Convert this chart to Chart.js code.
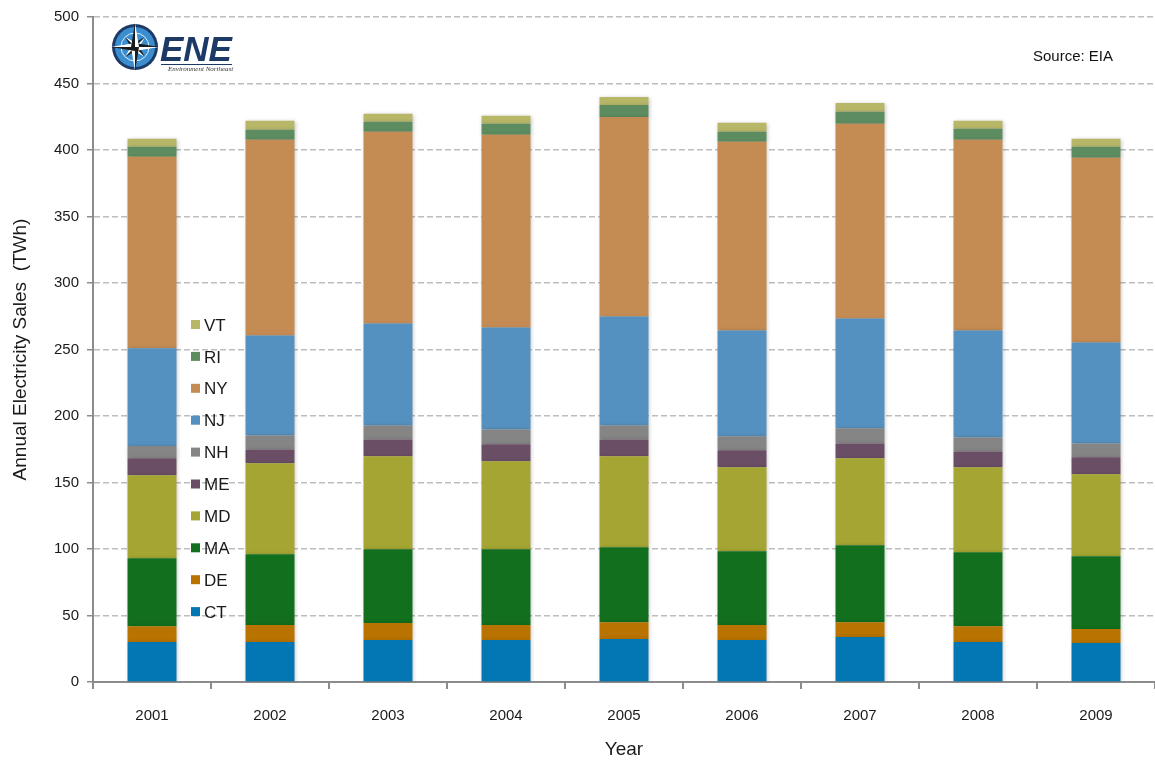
<!DOCTYPE html>
<html>
<head>
<meta charset="utf-8">
<script src="https://cdn.jsdelivr.net/npm/chart.js@4/dist/chart.umd.min.js"></script>
<style>
  html, body { margin: 0; padding: 0; background: #fff; }
  #wrap { width: 1155px; height: 761px; position: relative; }
</style>
</head>
<body>
<div id="wrap"><canvas id="salesChart" width="1155" height="761"></canvas></div>
<script>
// Annual electricity sales by state (TWh)
const years = ['2001', '2002', '2003', '2004', '2005', '2006', '2007', '2008', '2009'];
const ct = [30.0, 30.0, 31.5, 31.5, 32.3, 31.5, 33.8, 30.0, 29.3];
const de = [12.0, 12.8, 12.8, 11.3, 12.7, 11.3, 11.2, 12.0, 10.5];
const ma = [51.1, 53.3, 55.5, 57.0, 56.4, 55.5, 57.9, 55.6, 54.8];
const md = [62.3, 68.3, 69.9, 66.1, 68.3, 63.1, 65.3, 63.8, 61.6];
const me = [12.8, 10.5, 12.7, 12.8, 12.7, 12.8, 11.2, 12.0, 12.7];
const nh = [9.2, 10.5, 10.5, 11.2, 10.5, 10.5, 11.3, 10.5, 10.5];
const nj = [73.6, 75.1, 76.6, 76.6, 81.9, 79.6, 82.6, 80.4, 75.9];
const ny = [143.9, 147.2, 144.2, 144.9, 150.1, 141.9, 146.4, 143.4, 138.8];
const ri = [7.5, 7.5, 7.5, 8.3, 9.0, 7.5, 9.0, 8.2, 8.3];
const vt = [6.0, 6.7, 6.0, 6.0, 6.0, 6.7, 6.7, 6.0, 6.0];
const yTicks = [0, 50, 100, 150, 200, 250, 300, 350, 400, 450, 500];

const FONT = "'Liberation Sans', Arial, sans-serif";

function series(label, data, color) {
    return {
        label: label,
        data: data,
        backgroundColor: color,
        borderWidth: 0,
        barPercentage: 0.415,
        categoryPercentage: 1.0
    };
}

const datasets = [
    series('CT', ct, '#0376b4'),
    series('DE', de, '#b87300'),
    series('MA', ma, '#126f1e'),
    series('MD', md, '#a4a532'),
    series('ME', me, '#6a4e66'),
    series('NH', nh, '#858585'),
    series('NJ', nj, '#5591c0'),
    series('NY', ny, '#c48c53'),
    series('RI', ri, '#5c8c60'),
    series('VT', vt, '#b8b768')
];

// soft shadow behind bars
const barShadow = {
    id: 'barShadow',
    beforeDatasetsDraw(chart) {
        const c = chart.ctx;
        c.save();
        c.shadowColor = 'rgba(0,0,0,0.25)';
        c.shadowBlur = 4;
        c.shadowOffsetX = 1;
        c.shadowOffsetY = 1;
    },
    afterDatasetsDraw(chart) {
        chart.ctx.restore();
    }
};

// legend inside plot, reversed order, plus source note and logo
const decorations = {
    id: 'decorations',
    afterDraw(chart) {
        const c = chart.ctx;
        c.save();

        // legend
        const items = chart.data.datasets.slice().reverse();
        c.font = '17px ' + FONT;
        c.textBaseline = 'middle';
        c.textAlign = 'left';
        items.forEach(function (ds, i) {
            const y = 325 + i * 31.9;
            c.fillStyle = ds.backgroundColor;
            c.fillRect(191, y - 5, 9, 9);
            c.fillStyle = '#1a1a1a';
            c.fillText(ds.label, 204, y + 1);
        });

        // source
        c.font = '15px ' + FONT;
        c.fillStyle = '#111';
        c.textAlign = 'right';
        c.fillText('Source: EIA', 1113, 57);

        // logo: compass
        const cx = 135, cy = 47;
        c.beginPath();
        c.arc(cx, cy, 23, 0, Math.PI * 2);
        c.fillStyle = '#1d3a66';
        c.fill();
        c.beginPath();
        c.arc(cx, cy, 20, 0, Math.PI * 2);
        c.fillStyle = '#3a8ed0';
        c.fill();
        c.beginPath();
        c.arc(cx, cy, 14, 0, Math.PI * 2);
        c.strokeStyle = '#dfeefa';
        c.lineWidth = 1;
        c.stroke();
        // star points
        function point(ang, len, col) {
            const a = ang * Math.PI / 180;
            const w = 4;
            c.beginPath();
            c.moveTo(cx + Math.cos(a) * len, cy + Math.sin(a) * len);
            c.lineTo(cx + Math.cos(a + Math.PI / 2) * w, cy + Math.sin(a + Math.PI / 2) * w);
            c.lineTo(cx, cy);
            c.closePath();
            c.fillStyle = col;
            c.fill();
            c.beginPath();
            c.moveTo(cx + Math.cos(a) * len, cy + Math.sin(a) * len);
            c.lineTo(cx + Math.cos(a - Math.PI / 2) * w, cy + Math.sin(a - Math.PI / 2) * w);
            c.lineTo(cx, cy);
            c.closePath();
            c.fillStyle = '#1b1b1b';
            c.fill();
        }
        [45, 135, 225, 315].forEach(function (a) { point(a, 14, '#ffffff'); });
        [0, 90, 180, 270].forEach(function (a) { point(a, 24, '#ffffff'); });

        // logo: text
        c.textAlign = 'left';
        c.textBaseline = 'alphabetic';
        c.font = 'italic bold 35px ' + FONT;
        c.fillStyle = '#1d3a66';
        c.fillText('ENE', 160, 61);
        c.fillRect(161, 64, 71, 1);
        c.font = 'italic 7px "Liberation Serif", serif';
        c.fillStyle = '#333';
        c.fillText('Environment Northeast', 168, 71);

        c.restore();
    }
};

new Chart(document.getElementById('salesChart'), {
    type: 'bar',
    data: { labels: years, datasets: datasets },
    plugins: [barShadow, decorations],
    options: {
        responsive: false,
        animation: false,
        layout: { padding: { top: 17, right: 0, left: 0, bottom: 0 } },
        plugins: {
            legend: { display: false },
            tooltip: { enabled: false }
        },
        scales: {
            x: {
                stacked: true,
                offset: true,
                afterFit(scale) { scale.height = 79; },
                border: { color: '#8c8c8c', width: 2 },
                grid: {
                    offset: true,
                    drawOnChartArea: false,
                    drawTicks: true,
                    tickLength: 7,
                    color: '#8c8c8c',
                    lineWidth: 2
                },
                ticks: {
                    color: '#1a1a1a',
                    font: { family: FONT, size: 15 },
                    padding: 18,
                    maxRotation: 0
                },
                title: {
                    display: true,
                    text: 'Year',
                    color: '#1a1a1a',
                    font: { family: FONT, size: 19 },
                    padding: { top: 6, bottom: 0 }
                }
            },
            y: {
                stacked: true,
                min: 0,
                max: 500,
                afterFit(scale) { scale.width = 93; },
                afterBuildTicks(scale) {
                    scale.ticks = yTicks.map(function (v) { return { value: v }; });
                },
                border: { color: '#8c8c8c', width: 2, dash: [6, 3] },
                grid: {
                    color: '#bdbdbd',
                    lineWidth: 1.5,
                    tickLength: 6,
                    tickColor: '#8c8c8c',
                    tickBorderDash: [],
                    drawTicks: true
                },
                ticks: {
                    color: '#1a1a1a',
                    font: { family: FONT, size: 15 },
                    padding: 8
                },
                title: {
                    display: true,
                    text: 'Annual Electricity Sales  (TWh)',
                    color: '#1a1a1a',
                    font: { family: FONT, size: 19 },
                    padding: { top: 9, bottom: 4 }
                }
            }
        }
    }
});
</script>
</body>
</html>
